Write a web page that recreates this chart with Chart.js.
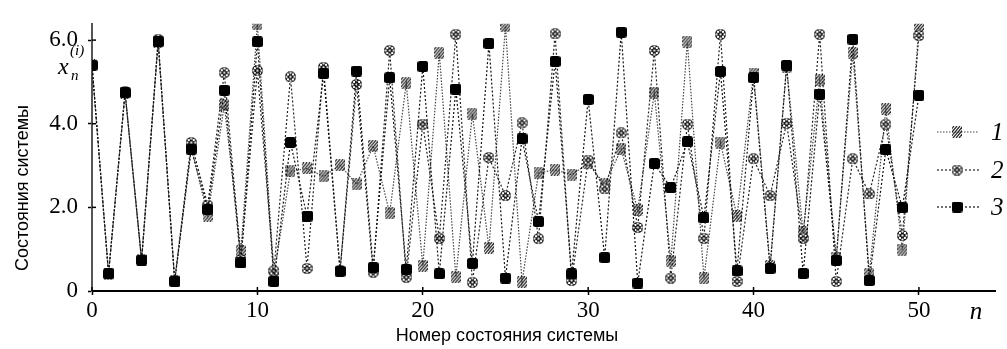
<!DOCTYPE html>
<html>
<head>
<meta charset="utf-8">
<script src="https://cdn.jsdelivr.net/npm/chart.js@4.4.0/dist/chart.umd.min.js"></script>
<style>body{margin:0;background:#fff}</style>
</head>
<body>
<canvas id="myChart" width="1007" height="349"></canvas>
<script>
// номер состояния n
const steps = [0,1,2,3,4,5,6,7,8,9,10,11,12,13,14,15,16,17,18,19,20,21,22,23,24,25,26,27,28,29,30,31,32,33,34,35,36,37,38,39,40,41,42,43,44,45,46,47,48,49,50];
const series1 = [5.40,0.41,4.74,0.74,5.96,0.23,3.45,1.80,4.45,0.95,6.38,0.40,2.86,2.93,2.74,3.01,2.55,3.47,1.86,4.97,0.60,5.69,0.33,4.24,1.03,6.34,0.21,2.82,2.90,2.78,3.05,2.55,3.39,1.94,4.74,0.71,5.96,0.30,3.55,1.79,5.20,0.60,5.35,1.40,5.04,0.80,5.69,0.40,4.35,0.99,6.34];
const series2 = [5.40,0.41,4.76,0.72,6.02,0.25,3.55,2.05,5.22,0.75,5.27,0.48,5.12,0.54,5.35,0.50,4.94,0.45,5.75,0.33,3.99,1.26,6.14,0.21,3.19,2.28,4.02,1.25,6.15,0.25,3.13,2.44,3.78,1.52,5.75,0.31,3.99,1.26,6.14,0.23,3.16,2.28,4.01,1.26,6.14,0.23,3.16,2.32,3.99,1.33,6.11];
const series3 = [5.40,0.41,4.74,0.74,5.96,0.23,3.39,1.95,4.80,0.67,5.96,0.23,3.55,1.79,5.20,0.47,5.26,0.56,5.10,0.52,5.37,0.41,4.83,0.66,5.92,0.31,3.64,1.66,5.49,0.41,4.58,0.80,6.19,0.19,3.05,2.47,3.57,1.75,5.25,0.48,5.10,0.54,5.40,0.42,4.71,0.73,6.02,0.25,3.38,1.99,4.68];
const seriesNames = ['1', '2', '3'];
const xTicks = [0, 10, 20, 30, 40, 50];
const yTicks = [0, 2, 4, 6];
const yTickLabels = ['0', '2.0', '4.0', '6.0'];

const SERIF = '"Liberation Serif", "Times New Roman", serif';
const SANS = '"Liberation Sans", Arial, sans-serif';

// маркеры
function hatchMarker() {
    const c = document.createElement('canvas');
    c.width = 10; c.height = 12;
    const g = c.getContext('2d');
    g.strokeStyle = '#222';
    g.lineWidth = 1.2;
    for (let k = -8; k < 12; k += 3) {
        g.beginPath();
        g.moveTo(k, 12);
        g.lineTo(k + 10, 0);
        g.stroke();
    }
    return c;
}
function crossMarker() {
    const c = document.createElement('canvas');
    c.width = 11; c.height = 11;
    const g = c.getContext('2d');
    g.fillStyle = '#111';
    g.beginPath();
    g.arc(5.5, 5.5, 5.5, 0, Math.PI * 2);
    g.fill();
    g.fillStyle = '#fff';
    [[2,2],[7,2],[4.5,4.5],[2,7],[7,7],[4.5,0.5],[4.5,8.5],[0.5,4.5],[8.5,4.5]].forEach(p => g.fillRect(p[0], p[1], 2, 2));
    return c;
}
function squareMarker() {
    const c = document.createElement('canvas');
    c.width = 11; c.height = 11;
    const g = c.getContext('2d');
    g.fillStyle = '#000';
    g.beginPath();
    g.roundRect(0, 0, 11, 11, 2.5);
    g.fill();
    return c;
}
const markers = [hatchMarker(), crossMarker(), squareMarker()];
const lineColors = ['#444', '#222', '#111'];
const lineDash = [[1.5, 1.5], [2, 2], [2, 2]];

const toXY = arr => arr.map((v, i) => ({x: steps[i], y: v}));

const extras = {
    id: 'extras',
    afterDraw(chart) {
        const c = chart.ctx;
        const xs = chart.scales.x, ys = chart.scales.y;
        const a = chart.chartArea;
        c.save();
        // внутренние засечки
        c.strokeStyle = '#000';
        c.lineWidth = 1.5;
        xTicks.forEach(v => {
            const px = xs.getPixelForValue(v);
            c.beginPath(); c.moveTo(px, a.bottom); c.lineTo(px, a.bottom - 4); c.stroke();
        });
        yTicks.forEach(v => {
            const py = ys.getPixelForValue(v);
            c.beginPath(); c.moveTo(a.left, py); c.lineTo(a.left + 4, py); c.stroke();
        });
        // подписи осей
        c.fillStyle = '#000';
        c.font = '18px ' + SANS;
        c.textAlign = 'center';
        c.textBaseline = 'alphabetic';
        c.fillText('Номер состояния системы', 507, 341);
        c.save();
        c.translate(28, 188);
        c.rotate(-Math.PI / 2);
        c.fillText('Состояния системы', 0, 0);
        c.restore();
        c.textAlign = 'left';
        c.font = 'italic 24px ' + SERIF;
        c.fillText('x', 58, 74);
        c.font = 'italic 15px ' + SERIF;
        c.fillText('n', 71, 80);
        c.fillText('(i)', 70, 55);
        // легенда
        const ly = [132, 170, 207];
        chart.data.datasets.forEach((ds, k) => {
            c.strokeStyle = ds.borderColor;
            c.lineWidth = 1.2;
            c.setLineDash(ds.borderDash);
            c.beginPath(); c.moveTo(937, ly[k]); c.lineTo(979, ly[k]); c.stroke();
            c.setLineDash([]);
            const m = ds.pointStyle;
            c.drawImage(m, 957 - m.width / 2, ly[k] - m.height / 2);
            c.fillStyle = '#000';
            c.font = 'italic 25px ' + SERIF;
            c.textBaseline = 'middle';
            c.fillText(ds.label, 991, ly[k] + 1);
        });
        c.restore();
    }
};

const ctx = document.getElementById('myChart').getContext('2d');
const myChart = new Chart(ctx, {
    type: 'line',
    data: {
        datasets: [series1, series2, series3].map((s, k) => ({
            label: seriesNames[k],
            data: toXY(s),
            borderColor: lineColors[k],
            borderWidth: 1.2,
            borderDash: lineDash[k],
            pointStyle: markers[k],
            pointRadius: 5,
            tension: 0,
            order: 3 - k
        }))
    },
    options: {
        responsive: false,
        animation: false,
        devicePixelRatio: 1,
        layout: {padding: {top: 13, right: 12, left: 0, bottom: 0}},
        plugins: {legend: {display: false}, tooltip: {enabled: false}},
        scales: {
            x: {
                type: 'linear',
                min: 0,
                max: 54.6,
                afterFit: s => { s.height = 58; },
                afterBuildTicks: s => { s.ticks = xTicks.map(v => ({value: v})).concat([{value: 53.45}]); },
                border: {color: '#000', width: 2},
                grid: {
                    drawOnChartArea: false,
                    tickLength: 4,
                    tickWidth: 1.5,
                    tickColor: c => (c.tick && c.tick.value > 51) ? 'rgba(0,0,0,0)' : '#000'
                },
                ticks: {
                    color: '#000',
                    padding: 2,
                    maxRotation: 0,
                    autoSkip: false,
                    font: c => (c.tick && c.tick.value > 51)
                        ? {family: SERIF, size: 25, style: 'italic'}
                        : {family: SERIF, size: 23},
                    callback: v => v > 51 ? 'n' : String(v)
                }
            },
            y: {
                min: 0,
                max: 6.39,
                afterFit: s => { s.width = 92; },
                afterBuildTicks: s => { s.ticks = yTicks.map(v => ({value: v})); },
                border: {color: '#555', width: 2, dash: [2, 1]},
                grid: {drawOnChartArea: false, tickLength: 4, tickWidth: 1.5, tickColor: '#000'},
                ticks: {
                    color: '#000',
                    padding: 10,
                    font: {family: SERIF, size: 23},
                    callback: v => yTickLabels[yTicks.indexOf(v)]
                }
            }
        }
    },
    plugins: [extras]
});
</script>
</body>
</html>
